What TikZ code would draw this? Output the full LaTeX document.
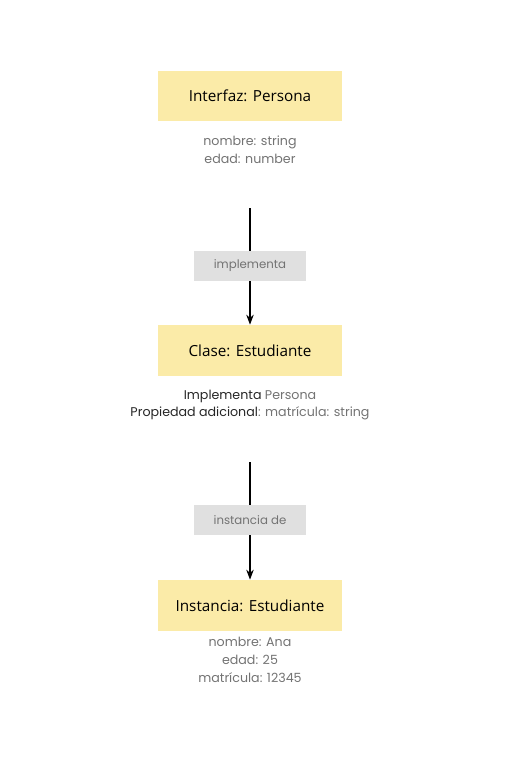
\documentclass[tikz,border=0pt]{standalone}
\usepackage{fontspec}
\setmainfont{Open Sans}
\newfontfamily\notefont{Poppins}
\usetikzlibrary{arrows.meta,positioning}
\definecolor{notegray}{HTML}{737373}
\definecolor{titleyellow}{HTML}{FBEBA8}
\definecolor{labelgray}{HTML}{E0E0E0}

\begin{document}
\begin{tikzpicture}[
  x=0.02cm, y=-0.02cm,
  titlebox/.style={fill=titleyellow, minimum width=3.68cm, minimum height=1.02cm, font=\fontsize{8.7}{10}\selectfont},
  relbox/.style={fill=labelgray, minimum width=2.24cm, minimum height=0.6cm, text=notegray, font=\notefont\fontsize{6.7}{8}\selectfont},
  note/.style={align=center, text=notegray, font=\notefont\fontsize{7.2}{10.2}\selectfont},
  >=Stealth
]
  \useasboundingbox (0,0) rectangle (523,768);

  % interface
  \node[titlebox] (iface) at (250,96) {Interfaz: Persona};
  \node[note] (ifacenote) at (250,150) {nombre: string\\edad: number};

  % class
  \node[titlebox] (cls) at (250,350.5) {Clase: Estudiante};
  \node[note] (clsnote) at (250,405)
      {\textcolor{black!85}{Implementa} Persona\\\textcolor{black!85}{Propiedad adicional}: matrícula: string};

  % instance
  \node[titlebox] (inst) at (250,605.5) {Instancia: Estudiante};
  \node[note] (instnote) at (250,660) {nombre: Ana\\edad: 25\\matrícula: 12345};

  % relations
  \coordinate (top1) at (250,208);
  \coordinate (top2) at (250,462);
  \node[relbox] (impl) at (250,266) {implementa};
  \node[relbox] (instof) at (250,520) {instancia de};
  \draw[semithick] (top1) -- (impl.north);
  \draw[->, semithick] (impl.south) -- (cls.north);
  \draw[semithick] (top2) -- (instof.north);
  \draw[->, semithick] (instof.south) -- (inst.north);
\end{tikzpicture}
\end{document}
